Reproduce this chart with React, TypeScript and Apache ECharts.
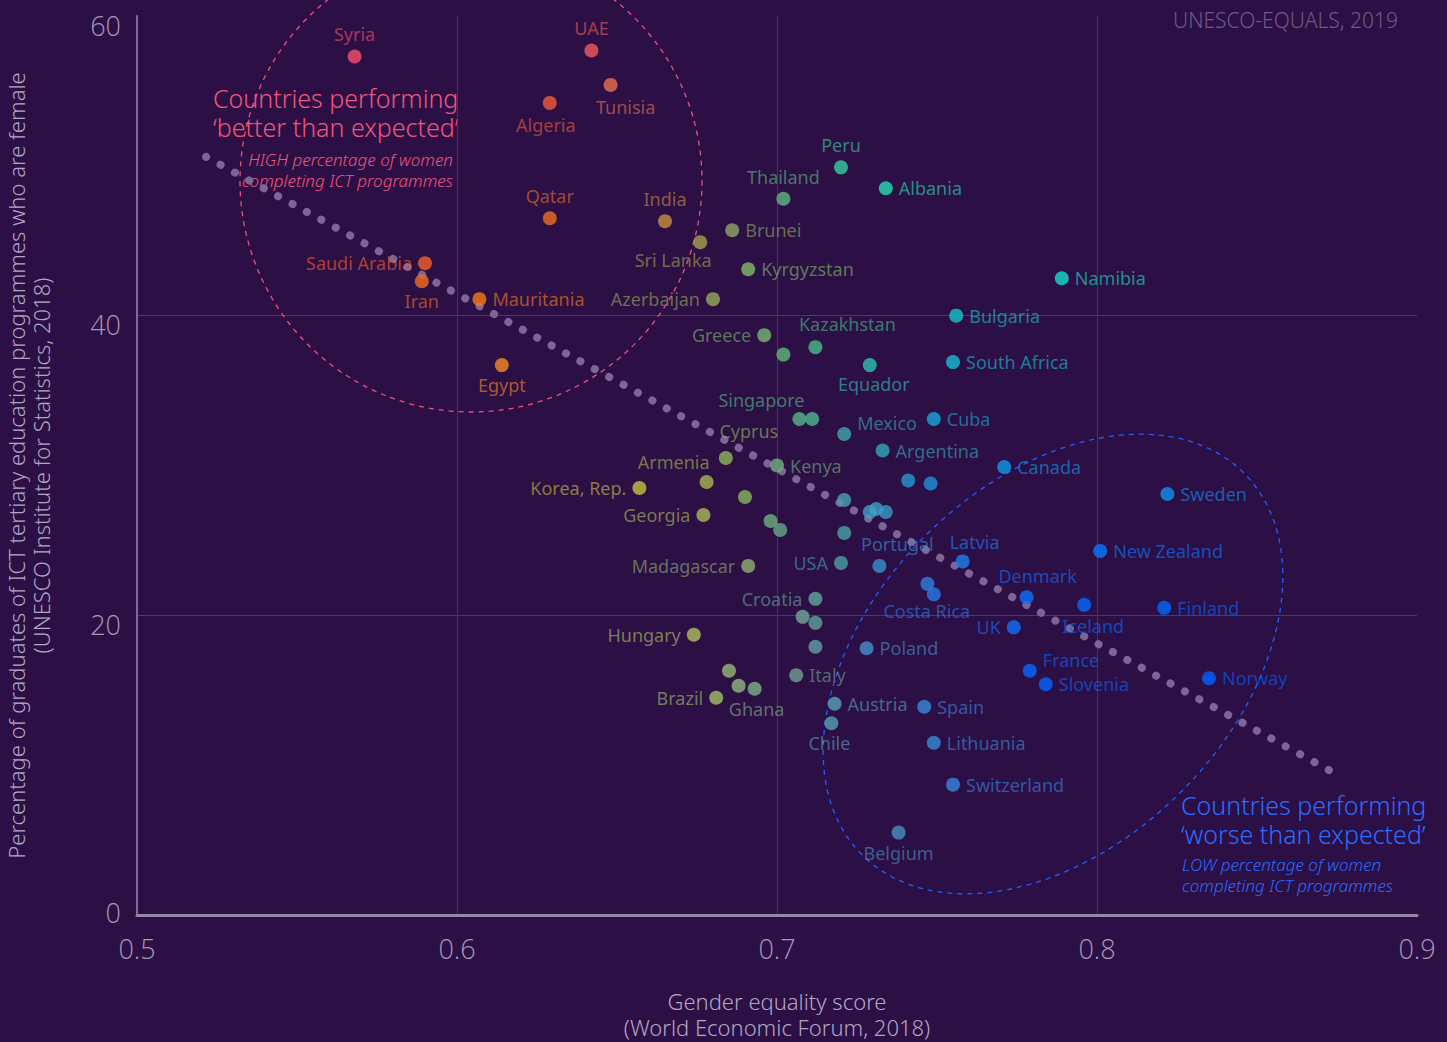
import React, { useEffect, useRef } from "react";
import * as echarts from "echarts";

// ---------- DATA ----------
const countryNames = [
  "Syria", "UAE", "Tunisia", "Algeria", "Qatar", "India", "Sri Lanka", "Brunei", "Thailand", "Peru",
  "Albania", "Kyrgyzstan", "Azerbaijan", "Namibia", "Bulgaria", "Saudi Arabia", "Iran", "Mauritania", "Egypt", "Greece",
  "", "Kazakhstan", "Equador", "South Africa", "Singapore", "", "Mexico", "Cuba", "Argentina", "Cyprus",
  "Armenia", "Kenya", "Korea, Rep.", "", "Georgia", "", "", "Madagascar", "", "",
  "", "", "", "", "", "USA", "Portugal", "Latvia", "Costa Rica", "",
  "Canada", "Sweden", "New Zealand", "Denmark", "Iceland", "Finland", "UK", "Poland", "France", "Slovenia",
  "Norway", "Croatia", "", "", "", "Italy", "Austria", "Chile", "Spain", "Lithuania",
  "Switzerland", "Belgium", "Hungary", "", "", "Ghana", "Brazil",
];

const genderScore = [
  0.568, 0.642, 0.648, 0.629, 0.629, 0.665, 0.676, 0.686, 0.702, 0.720,
  0.734, 0.691, 0.680, 0.789, 0.756, 0.590, 0.589, 0.607, 0.614, 0.696,
  0.702, 0.712, 0.729, 0.755, 0.707, 0.711, 0.721, 0.749, 0.733, 0.684,
  0.678, 0.700, 0.657, 0.690, 0.677, 0.698, 0.701, 0.691, 0.721, 0.721,
  0.729, 0.731, 0.734, 0.741, 0.748, 0.720, 0.732, 0.758, 0.749, 0.747,
  0.771, 0.822, 0.801, 0.778, 0.796, 0.821, 0.774, 0.728, 0.779, 0.784,
  0.835, 0.712, 0.708, 0.712, 0.712, 0.706, 0.718, 0.717, 0.746, 0.749,
  0.755, 0.738, 0.674, 0.685, 0.688, 0.693, 0.681,
];

const ictFemaleShare = [
  57.3, 57.7, 55.4, 54.2, 46.5, 46.3, 44.9, 45.7, 47.8, 49.9,
  48.5, 43.1, 41.1, 42.5, 40.0, 43.5, 42.3, 41.1, 36.7, 38.7,
  37.4, 37.9, 36.7, 36.9, 33.1, 33.1, 32.1, 33.1, 31.0, 30.5,
  28.9, 30.0, 28.5, 27.9, 26.7, 26.3, 25.7, 23.3, 27.7, 25.5,
  26.9, 27.1, 26.9, 29.0, 28.8, 23.5, 23.3, 23.6, 21.4, 22.1,
  29.9, 28.1, 24.3, 21.2, 20.7, 20.5, 19.2, 17.8, 16.3, 15.4,
  15.8, 21.1, 19.9, 19.5, 17.9, 16.0, 14.1, 12.8, 13.9, 11.5,
  8.7, 5.5, 18.7, 16.3, 15.3, 15.1, 14.5,
];

// trend line end points (score, share)
const trendScore = [0.5216, 0.874];
const trendShare = [50.6, 9.5];

const xTicks = [0.5, 0.6, 0.7, 0.8, 0.9];
const yTicks = [0, 20, 40, 60];

// ---------- STYLES ----------
const pointColors = [
  "#f5506a", "#ee5c5c", "#e8704e", "#f45a3c", "#ee6e22", "#c89040", "#a8a050", "#8ea860", "#5cb882", "#38d0a0",
  "#28dcb2", "#80bc68", "#9aaa58", "#18dccc", "#18c4cc", "#f5602a", "#f26a22", "#f87c14", "#f58a22", "#78b870",
  "#60b878", "#48bc88", "#30c0b0", "#18bcd4", "#58b888", "#50b890", "#40a8a8", "#18a8d8", "#30a8b8", "#90b858",
  "#a8b850", "#70b080", "#c8c040", "#88b860", "#a8bc58", "#70b080", "#68a888", "#90b070", "#48a0b0", "#48a0a8",
  "#40a0c0", "#40a0c4", "#3a9ac8", "#2898d0", "#2090d8", "#48a0a8", "#3890d0", "#2080f0", "#2878e8", "#3080e0",
  "#1098e8", "#1090f0", "#0878ff", "#1070f8", "#0868ff", "#0068ff", "#1070f8", "#4890c8", "#0868ff", "#0862ff",
  "#0062ff", "#60a8a0", "#70a898", "#60a0a0", "#60a0a0", "#70a090", "#58a0b0", "#58a0b0", "#3888d8", "#3888d8",
  "#3884e0", "#4890c0", "#b0c060", "#98b878", "#90b880", "#80b088", "#a0c068",
];

// label side and nudge (dx, dy) in pixels
const labelPlacement: Record<string, [string, number, number]> = {
  Syria: ["top", 0, 0], UAE: ["top", 0, 0], Tunisia: ["bottom", 15, 0], Algeria: ["bottom", -4, 0],
  Qatar: ["top", 0, 0], India: ["top", 0, 0], "Sri Lanka": ["bottom", -27, -4], Brunei: ["right", 0, 0],
  Thailand: ["top", 0, 0], Peru: ["top", 0, 0], Albania: ["right", 0, 0], Kyrgyzstan: ["right", 0, 0],
  Azerbaijan: ["left", 0, 0], Namibia: ["right", 0, 0], Bulgaria: ["right", 0, 0], "Saudi Arabia": ["left", 0, 0],
  Iran: ["bottom", 0, -2], Mauritania: ["right", 0, 0], Egypt: ["bottom", 0, -2], Greece: ["left", 0, 0],
  Kazakhstan: ["top", 32, -1], Equador: ["bottom", 4, -3], "South Africa": ["right", 0, 0], Singapore: ["top", -38, 3],
  Mexico: ["right", 0, -11], Cuba: ["right", 0, 0], Argentina: ["right", 0, 0], Cyprus: ["top", 23, -5],
  Armenia: ["top", -33, 2], Kenya: ["right", 0, 0], "Korea, Rep.": ["left", 0, 0], Georgia: ["left", 0, 0],
  Madagascar: ["left", 0, 0], USA: ["left", 0, 0], Portugal: ["top", 18, 0], Latvia: ["top", 12, 3],
  "Costa Rica": ["bottom", -7, -5], Canada: ["right", 0, 0], Sweden: ["right", 0, 0], "New Zealand": ["right", 0, 0],
  Denmark: ["top", 11, 1], Iceland: ["bottom", 9, -1], Finland: ["right", 0, 0], UK: ["left", 0, 0],
  Poland: ["right", 0, 0], France: ["right", 0, -11], Slovenia: ["right", 0, 0], Norway: ["right", 0, 0],
  Croatia: ["left", 0, 0], Italy: ["right", 0, 0], Austria: ["right", 0, 0], Chile: ["bottom", -2, -2],
  Spain: ["right", 0, 0], Lithuania: ["right", 0, 0], Switzerland: ["right", 0, 0], Belgium: ["bottom", 0, -2],
  Hungary: ["left", 0, 0], Ghana: ["bottom", 2, -2], Brazil: ["left", 0, 0],
};

const BG = "#2c0f45";
const FONT = "'Noto Sans', 'Open Sans', sans-serif";
const TICK_FONT = "'Open Sans', 'Noto Sans', sans-serif";
const TICK_COLOR = "#a698b6";

function fade(hex: string, a: number) {
  const n = parseInt(hex.slice(1), 16);
  return `rgba(${(n >> 16) & 255},${(n >> 8) & 255},${n & 255},${a})`;
}

function textEl(text: string, x: number, y: number, fill: string, fontSize: number, align: string, italic = false) {
  return {
    type: "text",
    silent: true,
    x,
    y,
    style: {
      text,
      fill,
      fontSize,
      fontFamily: FONT,
      fontWeight: 300,
      fontStyle: italic ? "italic" : "normal",
      align,
      verticalAlign: "middle",
    },
  };
}

export default function App() {
  const ref = useRef<HTMLDivElement>(null);

  useEffect(() => {
    if (!ref.current) return;
    const chart = echarts.init(ref.current, undefined, { renderer: "svg" });

    const points = countryNames.map((name, i) => {
      const place = labelPlacement[name];
      return {
        name,
        value: [genderScore[i], ictFemaleShare[i]],
        itemStyle: { color: pointColors[i] },
        label: name
          ? {
              show: true,
              formatter: name,
              position: place ? place[0] : "right",
              distance: 6,
              color: fade(pointColors[i], 0.78),
              fontSize: 18,
              fontFamily: FONT,
            }
          : { show: false },
      };
    });

    const trend = trendScore.map((s, i) => [s, trendShare[i]]);

    const tickText = { color: TICK_COLOR, fontSize: 27, fontWeight: 300, fontFamily: TICK_FONT };

    chart.setOption({
      animation: false,
      backgroundColor: BG,
      textStyle: { fontFamily: FONT },
      grid: { left: 137, right: 30, top: 16, bottom: 127, containLabel: false, outerBoundsMode: "none" },
      xAxis: {
        type: "value",
        min: xTicks[0],
        max: xTicks[xTicks.length - 1],
        interval: 0.1,
        name: "Gender equality score\n(World Economic Forum, 2018)",
        nameLocation: "middle",
        nameGap: 73,
        nameTextStyle: { color: "#b3a6c2", fontSize: 22, lineHeight: 26, fontFamily: FONT, fontWeight: 300 },
        axisLine: { show: true, lineStyle: { color: "#9586a8", width: 3 } },
        axisTick: { show: false },
        axisLabel: {
          ...tickText,
          margin: 20,
          formatter: (v: number) => v.toFixed(1),
        },
        splitLine: { show: true, showMinLine: false, showMaxLine: false, lineStyle: { color: "#4a3363", width: 1 } },
      },
      yAxis: {
        type: "value",
        min: yTicks[0],
        max: yTicks[yTicks.length - 1],
        interval: 20,
        name: "Percentage of graduates of ICT tertiary education programmes who are female\n(UNESCO Institute for Statistics, 2018)",
        nameLocation: "middle",
        nameRotate: 90,
        nameGap: 84,
        nameTextStyle: { color: "#b3a6c2", fontSize: 22, lineHeight: 25, fontFamily: FONT, fontWeight: 300 },
        axisLine: { show: true, lineStyle: { color: "#7d6c93", width: 2 } },
        axisTick: { show: false },
        axisLabel: {
          ...tickText,
          margin: 16,
          formatter: (v: number) => (v === 0 ? `{z|${v}}` : `{n|${v}}`),
          rich: {
            n: { ...tickText, padding: [18, 0, 0, 0] },
            z: { ...tickText, padding: [0, 0, 6, 0] },
          },
        },
        splitLine: { show: true, showMinLine: false, showMaxLine: false, lineStyle: { color: "#4f3868", width: 1 } },
      },
      graphic: [
        {
          type: "circle",
          silent: true,
          z: 1,
          shape: { cx: 471, cy: 181, r: 231 },
          style: { fill: "none", stroke: "#f0507a", lineWidth: 1.3, lineDash: [5, 5] },
        },
        {
          type: "ellipse",
          silent: true,
          z: 1,
          x: 1053,
          y: 664,
          rotation: Math.PI / 4,
          shape: { cx: 0, cy: 0, rx: 270, ry: 181 },
          style: { fill: "none", stroke: "#1f5fff", lineWidth: 1.3, lineDash: [5, 5] },
        },
        textEl("Countries performing", 213, 98, "#f2557c", 25, "left"),
        textEl("\u2018better than expected\u2019", 213, 127, "#f2557c", 25, "left"),
        textEl("HIGH percentage of women", 453, 159, "#f2557c", 17, "right", true),
        textEl("completing ICT programmes", 453, 180, "#f2557c", 17, "right", true),
        textEl("Countries performing", 1181, 805, "#2a6cff", 25, "left"),
        textEl("\u2018worse than expected\u2019", 1181, 834, "#2a6cff", 25, "left"),
        textEl("LOW percentage of women", 1182, 864, "#2a6cff", 17, "left", true),
        textEl("completing ICT programmes", 1182, 885, "#2a6cff", 17, "left", true),
        textEl("UNESCO-EQUALS, 2019", 1398, 20, "#6e5a86", 21, "right"),
      ],
      series: [
        {
          type: "line",
          data: trend,
          symbol: "none",
          silent: true,
          z: 2,
          lineStyle: { color: "#7d6597", width: 8, type: [0.1, 16.3], cap: "round" },
        },
        {
          type: "scatter",
          data: points,
          symbol: "circle",
          symbolSize: 14,
          z: 3,
          labelLayout: (params: any) => {
            const place = labelPlacement[countryNames[params.dataIndex]];
            return { hideOverlap: false, dx: place ? place[1] : 0, dy: place ? place[2] : 0 };
          },
        },
      ],
    });

    return () => chart.dispose();
  }, []);

  return (
    <div
      ref={ref}
      style={{ position: "fixed", left: 0, top: 0, width: 1447, height: 1042 }}
    />
  );
}
